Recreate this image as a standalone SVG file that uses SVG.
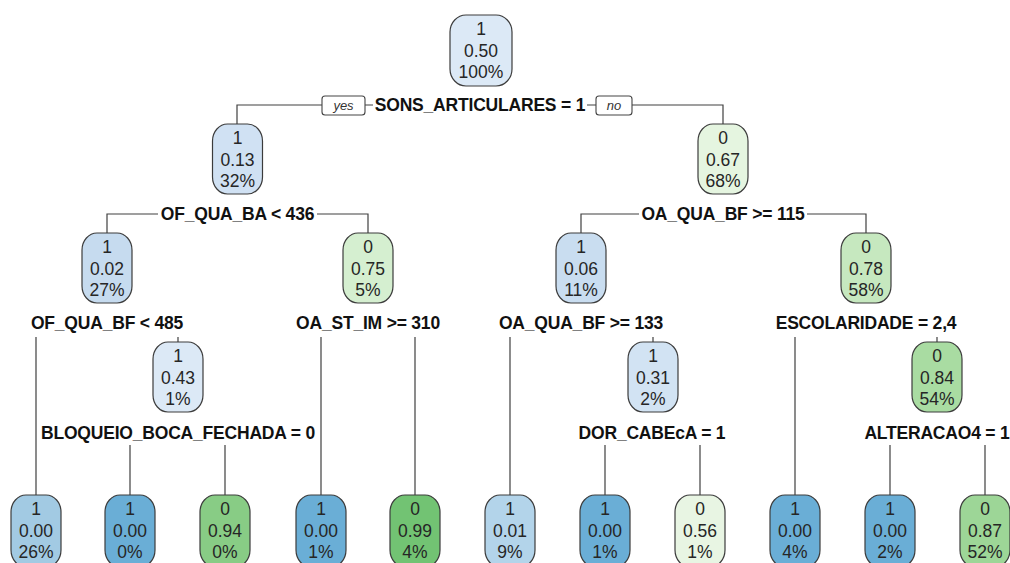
<svg xmlns="http://www.w3.org/2000/svg" width="1010" height="563" viewBox="0 0 1010 563">
  <defs>
    <style>
      .node { stroke: #3c3c3c; stroke-width: 1.2; }
      .nt { font-family: "Liberation Sans", Arial, sans-serif; font-size: 17.5px; fill: #262626; text-anchor: middle; }
      .split { font-family: "Liberation Sans", Arial, sans-serif; font-size: 17.5px; font-weight: bold; fill: #111; text-anchor: middle; letter-spacing: -0.2px; }
      .yn { font-family: "Liberation Sans", Arial, sans-serif; font-size: 13px; font-style: italic; fill: #333; text-anchor: middle; }
      .ynbox { fill: #fff; stroke: #444; stroke-width: 1.1; }
      .edge { stroke: #404040; stroke-width: 1.2; fill: none; }
    </style>
  </defs>
  <rect width="1010" height="563" fill="#ffffff"/>

  <!-- branches -->
  <g id="connectors">
    <!-- root split -->
    <path class="edge" d="M237,124 V105 H322 M365,105 H373 M587,105 H596 M632,105 H723 V124"/>
    <!-- level 2 splits -->
    <path class="edge" d="M107,233 V214 H158 M317,214 H368 V233"/>
    <path class="edge" d="M581,233 V214 H639 M807,214 H866 V233"/>
    <!-- level 3 splits -->
    <path class="edge" d="M36,337 V495 M178,337 V342"/>
    <path class="edge" d="M321,337 V495 M415,337 V495"/>
    <path class="edge" d="M510,337 V495 M653,337 V342"/>
    <path class="edge" d="M795,337 V495 M937,337 V342"/>
    <!-- level 4 splits -->
    <path class="edge" d="M130,445 V495 M225,445 V495"/>
    <path class="edge" d="M605,445 V495 M700,445 V495"/>
    <path class="edge" d="M890,445 V495 M985,445 V495"/>
  </g>

  <!-- split labels -->
  <g id="labels">
    <rect class="ynbox" x="322" y="96" width="43" height="19" rx="3"/>
    <text class="yn" x="343.5" y="110">yes</text>
    <rect class="ynbox" x="596" y="96" width="36" height="19" rx="3"/>
    <text class="yn" x="614" y="110">no</text>
    <text class="split" x="480" y="111">SONS_ARTICULARES = 1</text>
    <text class="split" x="237.5" y="220">OF_QUA_BA &lt; 436</text>
    <text class="split" x="723" y="220">OA_QUA_BF &gt;= 115</text>
    <text class="split" x="107" y="329">OF_QUA_BF &lt; 485</text>
    <text class="split" x="368" y="329">OA_ST_IM &gt;= 310</text>
    <text class="split" x="581" y="329">OA_QUA_BF &gt;= 133</text>
    <text class="split" x="866" y="329">ESCOLARIDADE = 2,4</text>
    <text class="split" x="178" y="439">BLOQUEIO_BOCA_FECHADA = 0</text>
    <text class="split" x="652" y="439">DOR_CABEcA = 1</text>
    <text class="split" x="937" y="439">ALTERACAO4 = 1</text>
  </g>

  <!-- root -->
  <g id="n1">
    <rect class="node" x="450" y="15" width="62" height="71" rx="16" ry="17" fill="#dce9f6"/>
    <text class="nt" x="481" y="35">1</text>
    <text class="nt" x="481" y="56.5">0.50</text>
    <text class="nt" x="481" y="78">100%</text>
  </g>

  <!-- depth 1 -->
  <g id="n2">
    <rect class="node" x="212.5" y="124" width="50" height="70" rx="15" ry="17" fill="#d0e1f3"/>
    <text class="nt" x="237.5" y="144">1</text>
    <text class="nt" x="237.5" y="165.5">0.13</text>
    <text class="nt" x="237.5" y="187">32%</text>
  </g>
  <g id="n3">
    <rect class="node" x="698" y="124" width="50" height="70" rx="15" ry="17" fill="#e5f5e0"/>
    <text class="nt" x="723" y="144">0</text>
    <text class="nt" x="723" y="165.5">0.67</text>
    <text class="nt" x="723" y="187">68%</text>
  </g>

  <!-- depth 2 -->
  <g id="n4">
    <rect class="node" x="82" y="233" width="50" height="70" rx="15" ry="17" fill="#c6dbef"/>
    <text class="nt" x="107" y="253">1</text>
    <text class="nt" x="107" y="274.5">0.02</text>
    <text class="nt" x="107" y="296">27%</text>
  </g>
  <g id="n5">
    <rect class="node" x="343" y="233" width="50" height="70" rx="15" ry="17" fill="#d5efd0"/>
    <text class="nt" x="368" y="253">0</text>
    <text class="nt" x="368" y="274.5">0.75</text>
    <text class="nt" x="368" y="296">5%</text>
  </g>
  <g id="n6">
    <rect class="node" x="556" y="233" width="50" height="70" rx="15" ry="17" fill="#c9ddf0"/>
    <text class="nt" x="581" y="253">1</text>
    <text class="nt" x="581" y="274.5">0.06</text>
    <text class="nt" x="581" y="296">11%</text>
  </g>
  <g id="n7">
    <rect class="node" x="841" y="233" width="50" height="70" rx="15" ry="17" fill="#c6e8bf"/>
    <text class="nt" x="866" y="253">0</text>
    <text class="nt" x="866" y="274.5">0.78</text>
    <text class="nt" x="866" y="296">58%</text>
  </g>

  <!-- depth 3 inner nodes -->
  <g id="n9">
    <rect class="node" x="153" y="342" width="50" height="70" rx="15" ry="17" fill="#dce9f6"/>
    <text class="nt" x="178" y="362">1</text>
    <text class="nt" x="178" y="383.5">0.43</text>
    <text class="nt" x="178" y="405">1%</text>
  </g>
  <g id="n13">
    <rect class="node" x="628" y="342" width="50" height="70" rx="15" ry="17" fill="#d2e3f3"/>
    <text class="nt" x="653" y="362">1</text>
    <text class="nt" x="653" y="383.5">0.31</text>
    <text class="nt" x="653" y="405">2%</text>
  </g>
  <g id="n15">
    <rect class="node" x="912" y="342" width="50" height="70" rx="15" ry="17" fill="#a9dca2"/>
    <text class="nt" x="937" y="362">0</text>
    <text class="nt" x="937" y="383.5">0.84</text>
    <text class="nt" x="937" y="405">54%</text>
  </g>

  <!-- leaves -->
  <g id="leaf1">
    <rect class="node" x="11" y="495" width="50" height="72" rx="15" ry="17" fill="#a2cae3"/>
    <text class="nt" x="36" y="515">1</text>
    <text class="nt" x="36" y="536.5">0.00</text>
    <text class="nt" x="36" y="558">26%</text>
  </g>
  <g id="leaf2">
    <rect class="node" x="105" y="495" width="50" height="72" rx="15" ry="17" fill="#6aaed6"/>
    <text class="nt" x="130" y="515">1</text>
    <text class="nt" x="130" y="536.5">0.00</text>
    <text class="nt" x="130" y="558">0%</text>
  </g>
  <g id="leaf3">
    <rect class="node" x="200" y="495" width="50" height="72" rx="15" ry="17" fill="#88cc85"/>
    <text class="nt" x="225" y="515">0</text>
    <text class="nt" x="225" y="536.5">0.94</text>
    <text class="nt" x="225" y="558">0%</text>
  </g>
  <g id="leaf4">
    <rect class="node" x="296" y="495" width="50" height="72" rx="15" ry="17" fill="#6aaed6"/>
    <text class="nt" x="321" y="515">1</text>
    <text class="nt" x="321" y="536.5">0.00</text>
    <text class="nt" x="321" y="558">1%</text>
  </g>
  <g id="leaf5">
    <rect class="node" x="390" y="495" width="50" height="72" rx="15" ry="17" fill="#72c373"/>
    <text class="nt" x="415" y="515">0</text>
    <text class="nt" x="415" y="536.5">0.99</text>
    <text class="nt" x="415" y="558">4%</text>
  </g>
  <g id="leaf6">
    <rect class="node" x="485" y="495" width="50" height="72" rx="15" ry="17" fill="#b3d4ea"/>
    <text class="nt" x="510" y="515">1</text>
    <text class="nt" x="510" y="536.5">0.01</text>
    <text class="nt" x="510" y="558">9%</text>
  </g>
  <g id="leaf7">
    <rect class="node" x="580" y="495" width="50" height="72" rx="15" ry="17" fill="#6aaed6"/>
    <text class="nt" x="605" y="515">1</text>
    <text class="nt" x="605" y="536.5">0.00</text>
    <text class="nt" x="605" y="558">1%</text>
  </g>
  <g id="leaf8">
    <rect class="node" x="675" y="495" width="50" height="72" rx="15" ry="17" fill="#e8f5e3"/>
    <text class="nt" x="700" y="515">0</text>
    <text class="nt" x="700" y="536.5">0.56</text>
    <text class="nt" x="700" y="558">1%</text>
  </g>
  <g id="leaf9">
    <rect class="node" x="770" y="495" width="50" height="72" rx="15" ry="17" fill="#6aaed6"/>
    <text class="nt" x="795" y="515">1</text>
    <text class="nt" x="795" y="536.5">0.00</text>
    <text class="nt" x="795" y="558">4%</text>
  </g>
  <g id="leaf10">
    <rect class="node" x="865" y="495" width="50" height="72" rx="15" ry="17" fill="#6aaed6"/>
    <text class="nt" x="890" y="515">1</text>
    <text class="nt" x="890" y="536.5">0.00</text>
    <text class="nt" x="890" y="558">2%</text>
  </g>
  <g id="leaf11">
    <rect class="node" x="960" y="495" width="50" height="72" rx="15" ry="17" fill="#9dd697"/>
    <text class="nt" x="985" y="515">0</text>
    <text class="nt" x="985" y="536.5">0.87</text>
    <text class="nt" x="985" y="558">52%</text>
  </g>
</svg>
